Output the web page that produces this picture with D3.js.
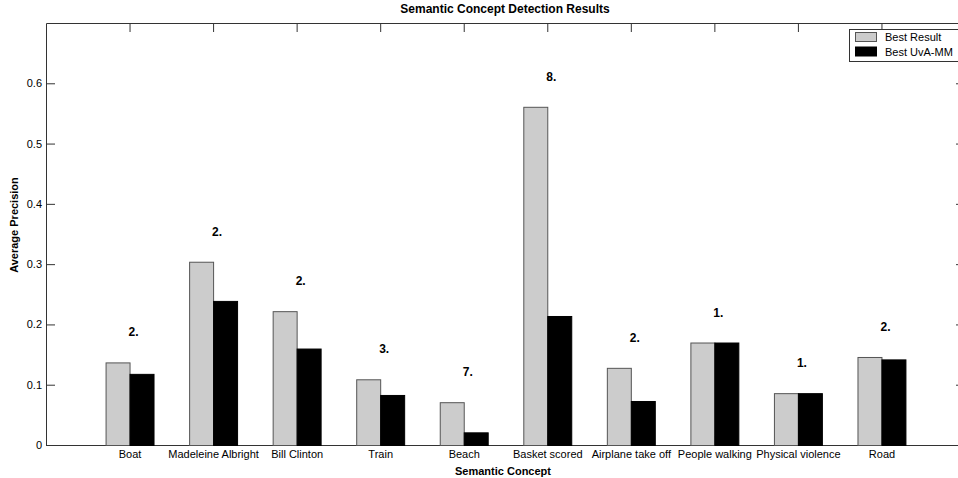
<!DOCTYPE html>
<html>
<head>
<meta charset="utf-8">
<script src="https://cdn.jsdelivr.net/npm/d3@7"></script>
<style>
  body { margin: 0; background: #fff; }
  text { font-family: "Liberation Sans", Arial, sans-serif; fill: #000; }
  .axis path, .axis line { stroke: #333; }
</style>
</head>
<body>
<svg id="svg" width="958" height="478"></svg>
<script>
const categories = ["Boat", "Madeleine Albright", "Bill Clinton", "Train", "Beach",
  "Basket scored", "Airplane take off", "People walking", "Physical violence", "Road"];
const bestResult = [0.137, 0.304, 0.222, 0.109, 0.071, 0.561, 0.128, 0.170, 0.086, 0.146];
const bestUvA    = [0.118, 0.239, 0.160, 0.083, 0.021, 0.214, 0.073, 0.170, 0.086, 0.142];
const ranks = ["2.", "2.", "2.", "3.", "7.", "8.", "2.", "1.", "1.", "2."];
const yTicks = [0, 0.1, 0.2, 0.3, 0.4, 0.5, 0.6];
const yTickLabels = ["0", "0.1", "0.2", "0.3", "0.4", "0.5", "0.6"];
const xTicks = [1, 2, 3, 4, 5, 6, 7, 8, 9, 10];
const seriesNames = ["Best Result", "Best UvA-MM"];
const seriesColors = ["#cccccc", "#000000"];
const seriesStroke = ["#555555", "#000000"];

const svg = d3.select("#svg");
const mLeft = 46, mRight = 965, mTop = 23, mBottom = 445;
const barW = 0.287; // in x units

const x = d3.scaleLinear().domain([0, 11]).range([mLeft, mRight]);
const y = d3.scaleLinear().domain([0, 0.7]).range([mBottom, mTop]);

// axes box (ticks inside)
svg.append("g").attr("class", "axis")
  .attr("transform", `translate(0,${mBottom})`)
  .call(d3.axisBottom(x).tickValues(xTicks).tickFormat(i => categories[i - 1])
    .tickSizeInner(-9).tickSizeOuter(0).tickPadding(5))
  .call(g => g.selectAll("text").style("font-size", "11px"));

svg.append("g").attr("class", "axis")
  .attr("transform", `translate(0,${mTop})`)
  .call(d3.axisTop(x).tickValues(xTicks).tickFormat("").tickSizeInner(-9).tickSizeOuter(0));

svg.append("g").attr("class", "axis")
  .attr("transform", `translate(${mLeft},0)`)
  .call(d3.axisLeft(y).tickValues(yTicks).tickFormat((d, i) => yTickLabels[i])
    .tickSizeInner(-9).tickSizeOuter(0).tickPadding(4))
  .call(g => g.selectAll("text").style("font-size", "11px"));

svg.append("g").attr("class", "axis")
  .attr("transform", `translate(${mRight},0)`)
  .call(d3.axisRight(y).tickValues(yTicks).tickFormat("").tickSizeInner(-9).tickSizeOuter(0));

// bars
const series = [bestResult, bestUvA];
series.forEach((vals, s) => {
  svg.append("g").selectAll("rect").data(vals).enter().append("rect")
    .attr("x", (d, i) => x(i + 1 + (s - 1) * barW) + 0.5)
    .attr("y", d => y(d) + 0.5)
    .attr("width", x(barW) - x(0))
    .attr("height", d => y(0) - y(d))
    .attr("fill", seriesColors[s])
    .attr("stroke", seriesStroke[s])
    .attr("stroke-width", 1);
});

// rank labels
svg.append("g").selectAll("text").data(ranks).enter().append("text")
  .attr("x", (d, i) => x(i + 1) - 1)
  .attr("y", (d, i) => y(Math.max(bestResult[i], bestUvA[i]) + 0.05))
  .attr("dy", "0.35em")
  .style("font-size", "12px").style("font-weight", "bold")
  .text(d => d);

// titles
svg.append("text").attr("x", 505).attr("y", 13).attr("text-anchor", "middle")
  .style("font-size", "12px").style("font-weight", "bold")
  .text("Semantic Concept Detection Results");
svg.append("text").attr("x", 503).attr("y", 475).attr("text-anchor", "middle")
  .style("font-size", "11px").style("font-weight", "bold")
  .text("Semantic Concept");
svg.append("text").attr("transform", "translate(18,225) rotate(-90)").attr("text-anchor", "middle")
  .style("font-size", "11px").style("font-weight", "bold")
  .text("Average Precision");

// legend
const legend = svg.append("g");
legend.append("rect").attr("x", 849.5).attr("y", 29.5).attr("width", 120).attr("height", 32)
  .attr("fill", "#fff").attr("stroke", "#333");
seriesNames.forEach((name, s) => {
  legend.append("rect").attr("x", 855.5).attr("y", 32.5 + s * 14.5).attr("width", 21).attr("height", 9)
    .attr("fill", seriesColors[s]).attr("stroke", seriesStroke[s]);
  legend.append("text").attr("x", 885).attr("y", 37.5 + s * 14.5).attr("dy", "0.35em")
    .style("font-size", "11px").text(name);
});
</script>
</body>
</html>
